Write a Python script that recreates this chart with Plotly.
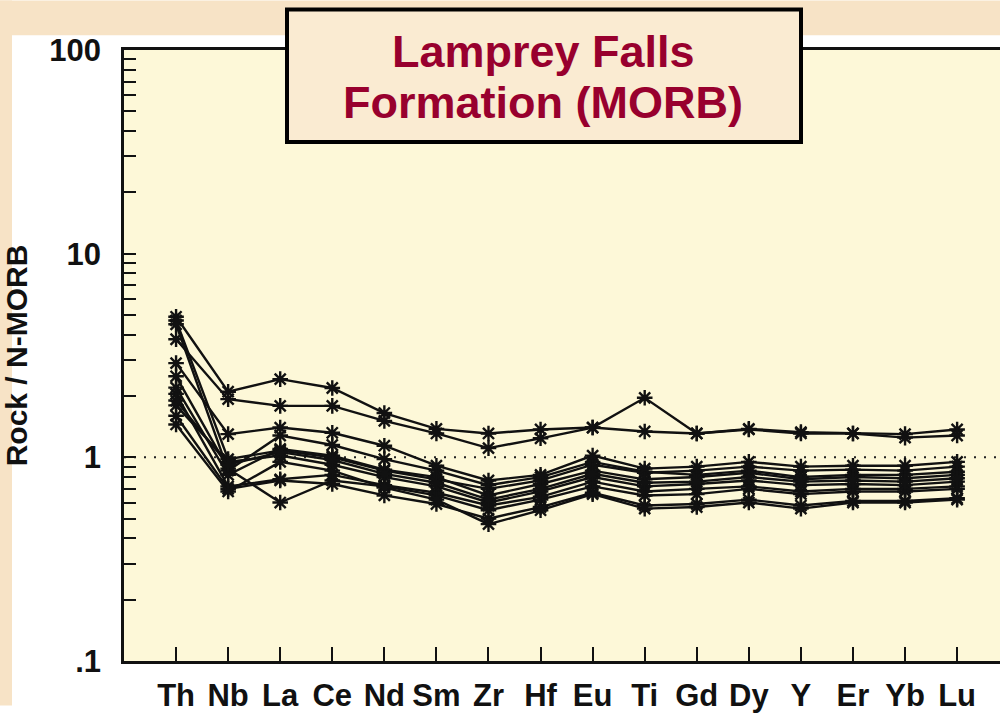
import plotly.graph_objects as go

# Element order along the N-MORB normalised spider diagram
elements = ["Th", "Nb", "La", "Ce", "Nd", "Sm", "Zr", "Hf",
            "Eu", "Ti", "Gd", "Dy", "Y", "Er", "Yb", "Lu"]

# Rock / N-MORB ratios for each sample
s01 = [4.9, 2.10, 2.42, 2.19, 1.65, 1.38, 1.31, 1.37, 1.40, 1.34, 1.31, 1.38, 1.33, 1.31, 1.30, 1.37]
s02 = [3.8, 1.93, 1.79, 1.79, 1.51, 1.31, 1.11, 1.24, 1.40, 1.96, 1.31, 1.37, 1.31, 1.31, 1.25, 1.28]
s03 = [4.7, 0.98, 1.08, 1.00, 0.86, 0.78, 0.70, 0.77, 0.92, 0.84, 0.86, 0.90, 0.86, 0.87, 0.86, 0.90]
s04 = [4.5, 0.86, 1.28, 1.15, 0.98, 0.86, 0.73, 0.80, 0.95, 0.85, 0.82, 0.86, 0.80, 0.82, 0.82, 0.85]
s05 = [2.9, 1.30, 1.40, 1.32, 1.14, 0.91, 0.77, 0.82, 1.02, 0.88, 0.90, 0.95, 0.90, 0.91, 0.91, 0.95]
s06 = [2.5, 0.88, 0.60, 0.77, 0.72, 0.65, 0.55, 0.62, 0.72, 0.65, 0.66, 0.70, 0.66, 0.68, 0.68, 0.70]
s07 = [2.2, 0.82, 1.10, 1.02, 0.87, 0.80, 0.65, 0.74, 0.86, 0.78, 0.80, 0.84, 0.78, 0.80, 0.79, 0.82]
s08 = [2.05, 0.72, 0.78, 0.82, 0.73, 0.67, 0.58, 0.64, 0.76, 0.68, 0.70, 0.72, 0.68, 0.70, 0.70, 0.72]
s09 = [1.8, 0.95, 1.02, 0.92, 0.80, 0.72, 0.60, 0.68, 0.80, 0.72, 0.74, 0.77, 0.73, 0.74, 0.73, 0.76]
s10 = [1.6, 0.70, 0.77, 0.74, 0.65, 0.59, 0.50, 0.57, 0.67, 0.58, 0.59, 0.62, 0.58, 0.61, 0.61, 0.63]
s11 = [1.45, 0.68, 0.95, 0.86, 0.71, 0.62, 0.47, 0.55, 0.66, 0.56, 0.57, 0.60, 0.56, 0.60, 0.60, 0.62]
s12 = [1.9, 0.92, 1.06, 0.97, 0.83, 0.75, 0.62, 0.70, 0.83, 0.75, 0.76, 0.80, 0.76, 0.77, 0.76, 0.79]

samples = [s01, s02, s03, s04, s05, s06, s07, s08, s09, s10, s11, s12]

# Log axis ticks: labelled decades plus unlabelled 2..9 minors
y_major = [0.1, 1, 10, 100]
y_major_text = [".1", "1", "10", "100"]

title_lines = ["Lamprey Falls", "Formation (MORB)"]
y_title = "Rock / N-MORB"

W, H = 1000, 713
ML, MR, MT, MB = 124, 0, 50, 45
plot_w = W - ML - MR
plot_h = H - MT - MB
step = 52.07
x_range = [-1, plot_w / step - 1]

tickvals, ticktext = [], []
for d in (0.1, 1, 10):
    for m in range(1, 10):
        v = round(d * m, 6)
        tickvals.append(v)
        ticktext.append(y_major_text[y_major.index(d)] if m == 1 else "")
tickvals.append(100)
ticktext.append("100")

fig = go.Figure()
xs = list(range(len(elements)))
for s in samples:
    fig.add_trace(go.Scatter(
        x=xs, y=s, mode="lines+markers",
        line=dict(color="#111111", width=2.4),
        marker=dict(symbol="asterisk-open", size=13,
                    line=dict(color="#111111", width=2.4)),
        showlegend=False, hoverinfo="skip",
    ))

def px_x(p):
    return (p - ML) / plot_w

def px_y(p):
    return (H - MB - p) / plot_h

shapes = [
    # peach surround above and left of the white panel
    dict(type="rect", xref="paper", yref="paper",
         x0=px_x(0), x1=px_x(W), y0=px_y(35), y1=px_y(0),
         fillcolor="#F7E3C6", line=dict(width=0), layer="below"),
    dict(type="rect", xref="paper", yref="paper",
         x0=px_x(0), x1=px_x(12), y0=px_y(H), y1=px_y(0),
         fillcolor="#F7E3C6", line=dict(width=0), layer="below"),
    # N-MORB reference line
    dict(type="line", xref="x", yref="y", x0=x_range[0], x1=x_range[1],
         y0=1, y1=1, line=dict(color="#222222", width=2, dash="2px,8px"),
         layer="below"),
    # title box
    dict(type="rect", xref="paper", yref="paper",
         x0=px_x(287), x1=px_x(801), y0=px_y(143), y1=px_y(9),
         fillcolor="#FAEBD2", line=dict(color="#000000", width=4),
         layer="above"),
]

title_font = dict(family="Liberation Sans, Arial, sans-serif",
                  size=45, color="#98002E", weight="bold")
annotations = [
    dict(text=line, xref="paper", yref="paper",
         x=px_x(543), y=px_y(yc), xanchor="center", yanchor="middle",
         showarrow=False, font=title_font)
    for line, yc in zip(title_lines, (52, 103))
]

fig.update_layout(
    width=W, height=H,
    margin=dict(l=ML, r=MR, t=MT, b=MB, pad=0),
    paper_bgcolor="#FFFFFF",
    plot_bgcolor="#FDF8D8",
    shapes=shapes,
    annotations=annotations,
    xaxis=dict(
        range=x_range, tickmode="array", tickvals=xs, ticktext=elements,
        ticks="inside", ticklen=14, tickwidth=2, tickcolor="#111111",
        showline=True, linecolor="#111111", linewidth=2.5, mirror=True,
        showgrid=False, zeroline=False,
        tickfont=dict(family="Liberation Sans, Arial, sans-serif", size=31,
                      color="#111111", weight="bold"),
        ticklabelstandoff=5,
    ),
    yaxis=dict(
        type="log", range=[-1, 2], tickmode="array",
        tickvals=tickvals, ticktext=ticktext,
        ticks="inside", ticklen=12, tickwidth=2, tickcolor="#111111",
        showline=True, linecolor="#111111", linewidth=2.5, mirror=False,
        showgrid=False, zeroline=False,
        tickfont=dict(family="Liberation Sans, Arial, sans-serif", size=31,
                      color="#111111", weight="bold"),
        ticklabelstandoff=14,
        title=dict(text=y_title, standoff=14,
                   font=dict(family="Liberation Sans, Arial, sans-serif",
                             size=30, color="#111111", weight="bold")),
    ),
)

fig.write_html("out.html")
